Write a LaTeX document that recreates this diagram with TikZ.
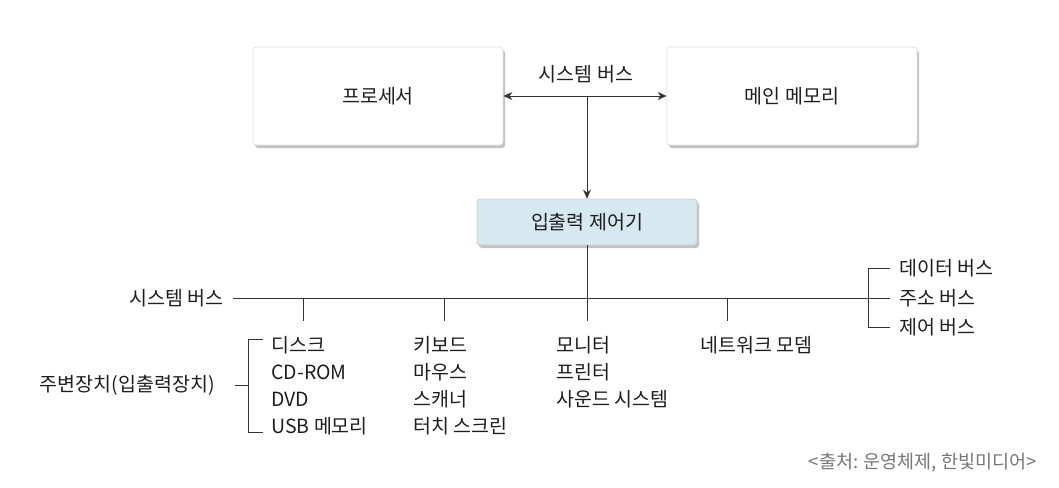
\documentclass[tikz,border=0pt]{standalone}
\usepackage{fontspec}
\setmainfont{Noto Sans CJK KR}
\usetikzlibrary{arrows.meta,shadows}
\definecolor{ln}{HTML}{333333}
\definecolor{tx}{HTML}{1E1E1E}
\definecolor{iofill}{HTML}{D6E8F0}
\definecolor{capc}{HTML}{777777}
\begin{document}
\begin{tikzpicture}[x=1pt,y=-1pt,
  font=\fontsize{19.5}{22}\selectfont,
  line width=0.8pt,
  bigbox/.style={draw=black!12, fill=white, rounded corners=3pt, minimum width=250pt, minimum height=98pt, text=tx,
     drop shadow={shadow xshift=2pt, shadow yshift=-3pt, opacity=0.4, fill=black!60}},
  iobox/.style={draw=black!20, fill=iofill, rounded corners=3pt, minimum width=220pt, minimum height=46pt, text=tx,
     drop shadow={shadow xshift=2pt, shadow yshift=-3pt, opacity=0.4, fill=black!60}},
  lbl/.style={inner sep=0pt, text=tx},
  conn/.style={draw=ln},
  arr/.style={draw=ln, -{Stealth[length=9pt,width=8pt]}},
  darr/.style={draw=ln, {Stealth[length=9pt,width=8pt]}-{Stealth[length=9pt,width=8pt]}},
  caption/.style={inner sep=0pt, text=capc, font=\fontsize{18.5}{21}\selectfont}]
\useasboundingbox (0,0) rectangle (1059,487);

% top boxes
\node[bigbox] (proc) at (378,96) {프로세서};
\node[bigbox] (mem) at (792,96) {메인 메모리};
\node[lbl] (sbtop) at (586,74) {시스템 버스};
\draw[darr] (proc.east) -- (mem.west);
\coordinate (jt) at (587,96);
\node[iobox] (io) at (587,222) {입출력 제어기};
\draw[arr] (jt) -- (io.north);

% system bus
\node[lbl, anchor=east] (sb) at (224,298) {시스템 버스};
\coordinate (busL) at (233,298);
\coordinate (busR) at (890,298);
\draw[conn] (busL) -- (busR);
\draw[conn] (io.south) -- (io.south |- busL);

% drops
\foreach \n/\x in {d1/303,d2/444,d3/587,d4/727}{
  \coordinate (\n t) at (\x,298);
  \coordinate (\n b) at (\x,321);
  \draw[conn] (\n t) -- (\n b);
}

% column 1
\node[lbl, anchor=west] (c11) at (271,345) {디스크};
\node[lbl, anchor=west] (c12) at (271,372) {CD-ROM};
\node[lbl, anchor=west] (c13) at (271,399) {DVD};
\node[lbl, anchor=west] (c14) at (271,426) {USB 메모리};
% column 2
\node[lbl, anchor=west] (c21) at (413,345) {키보드};
\node[lbl, anchor=west] (c22) at (413,372) {마우스};
\node[lbl, anchor=west] (c23) at (413,399) {스캐너};
\node[lbl, anchor=west] (c24) at (413,426) {터치 스크린};
% column 3
\node[lbl, anchor=west] (c31) at (556,345) {모니터};
\node[lbl, anchor=west] (c32) at (556,372) {프린터};
\node[lbl, anchor=west] (c33) at (556,399) {사운드 시스템};
% column 4
\node[lbl, anchor=west] (c41) at (700,345) {네트워크 모뎀};

% peripheral bracket
\node[lbl, anchor=east] (per) at (215,385) {주변장치(입출력장치)};
\coordinate (pbT) at (248,339);
\coordinate (pbB) at (248,432);
\coordinate (pbM) at (248,385);
\coordinate (ptT) at (263,339);
\coordinate (ptB) at (263,432);
\draw[conn] (ptT) -- (pbT) -- (pbB) -- (ptB);
\draw[conn] (235,385) -- (pbM);

% bus bracket
\coordinate (bbT) at (868,268);
\coordinate (bbB) at (868,327);
\coordinate (btT) at (890,268);
\coordinate (btB) at (890,327);
\draw[conn] (btT) -- (bbT) -- (bbB) -- (btB);
\node[lbl, anchor=west] (b1) at (899,268) {데이터 버스};
\node[lbl, anchor=west] (b2) at (899,298) {주소 버스};
\node[lbl, anchor=west] (b3) at (899,327) {제어 버스};

% caption
\node[caption, anchor=east] (cap) at (1037,463) {<출처: 운영체제, 한빛미디어>};
\end{tikzpicture}
\end{document}
